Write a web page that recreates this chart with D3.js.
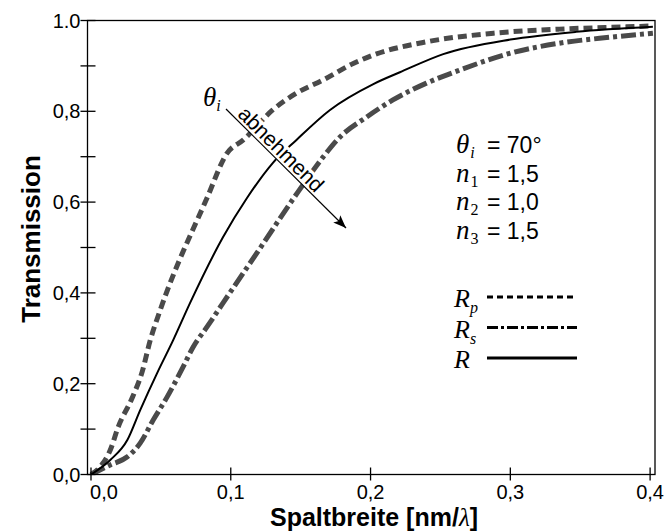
<!DOCTYPE html>
<html>
<head>
<meta charset="utf-8">
<script src="https://cdn.jsdelivr.net/npm/d3@7"></script>
<style>
    body { margin: 0; background: #fff; }
    svg { display: block; }
</style>
</head>
<body>
<svg width="667" height="531"></svg>
<script>
// Werte
const spaltRp = [0, 0.0066, 0.0138, 0.0195, 0.0295, 0.0366, 0.0424, 0.0495, 0.083, 0.0974, 0.109, 0.130, 0.147, 0.166, 0.188, 0.202, 0.240, 0.288, 0.335, 0.383, 0.402];
const transRp = [0, 0.017, 0.054, 0.105, 0.169, 0.226, 0.296, 0.362, 0.609, 0.708, 0.737, 0.803, 0.840, 0.869, 0.906, 0.924, 0.953, 0.972, 0.981, 0.986, 0.988];

const spaltR = [0, 0.0138, 0.026, 0.0352, 0.0474, 0.0588, 0.0709, 0.0945, 0.1116, 0.130, 0.147, 0.171, 0.202, 0.221, 0.252, 0.300, 0.347, 0.402];
const transR = [0, 0.032, 0.076, 0.142, 0.224, 0.296, 0.378, 0.523, 0.609, 0.686, 0.737, 0.803, 0.860, 0.886, 0.926, 0.958, 0.975, 0.986];

const spaltRs = [0, 0.0138, 0.026, 0.0352, 0.0445, 0.0545, 0.0659, 0.0731, 0.083, 0.0945, 0.12, 0.148, 0.166, 0.178, 0.197, 0.216, 0.240, 0.264, 0.300, 0.335, 0.371, 0.402];
const transRs = [0, 0.021, 0.039, 0.069, 0.120, 0.171, 0.237, 0.281, 0.325, 0.378, 0.494, 0.622, 0.699, 0.743, 0.787, 0.825, 0.862, 0.891, 0.928, 0.950, 0.963, 0.972];

const xTicks = [0, 0.1, 0.2, 0.3, 0.4];
const xLabels = ['0,0', '0,1', '0,2', '0,3', '0,4'];
const yTicks = [0, 0.1, 0.2, 0.3, 0.4, 0.5, 0.6, 0.7, 0.8, 0.9, 1.0];
const yLabels = ['0,0', '', '0,2', '', '0,4', '', '0,6', '', '0,8', '', '1.0'];

const paramVars = ['θ', 'n', 'n', 'n'];
const paramSubs = ['i', '1', '2', '3'];
const paramValues = ['70°', '1,5', '1,0', '1,5'];

const legendSubs = ['p', 's', ''];

const svg = d3.select('svg');
const pLeft = 87.5, pRight = 655, pTop = 20.5, pBottom = 474.5;
const grau = '#4a4a4a';
const sans = 'Liberation Sans, Arial, sans-serif';
const serif = 'Liberation Serif, Times New Roman, serif';

const x = d3.scaleLinear().domain([-0.0025, 0.4035]).range([pLeft, pRight]);
const y = d3.scaleLinear().domain([0, 1]).range([pBottom, pTop]);

svg.append('defs').append('clipPath').attr('id', 'plot')
    .append('rect')
    .attr('x', pLeft).attr('y', pTop)
    .attr('width', pRight - pLeft).attr('height', pBottom - pTop);

const line = d3.line()
    .x(d => x(d[0]))
    .y(d => y(d[1]))
    .curve(d3.curveMonotoneX);

const kurven = [
    {sx: spaltRs, ty: transRs, color: grau, width: 5, dash: '15,4,4,4'},
    {sx: spaltRp, ty: transRp, color: grau, width: 5, dash: '9,5'},
    {sx: spaltR, ty: transR, color: '#000', width: 2, dash: null}
];

const g = svg.append('g').attr('clip-path', 'url(#plot)');
kurven.forEach(k => {
    g.append('path')
        .datum(k.sx.map((v, i) => [v, k.ty[i]]))
        .attr('d', line)
        .attr('fill', 'none')
        .attr('stroke', k.color)
        .attr('stroke-width', k.width)
        .attr('stroke-dasharray', k.dash);
});

// Rahmen
svg.append('rect')
    .attr('x', pLeft).attr('y', pTop)
    .attr('width', pRight - pLeft).attr('height', pBottom - pTop)
    .attr('fill', 'none')
    .attr('stroke', '#000')
    .attr('stroke-width', 1.3);

// y-Achse
svg.append('g').selectAll('line')
    .data(yTicks)
    .enter().append('line')
    .attr('x1', pLeft - 7).attr('x2', pLeft + 8)
    .attr('y1', d => y(d)).attr('y2', d => y(d))
    .attr('stroke', '#000')
    .attr('stroke-width', 1.3);

svg.append('g').selectAll('text')
    .data(yTicks)
    .enter().append('text')
    .attr('x', pLeft - 7)
    .attr('y', d => y(d) + 7)
    .attr('text-anchor', 'end')
    .attr('font-family', sans)
    .attr('font-size', 20)
    .text((d, i) => yLabels[i]);

// x-Achse
svg.append('g').selectAll('line')
    .data(xTicks)
    .enter().append('line')
    .attr('x1', d => x(d)).attr('x2', d => x(d))
    .attr('y1', pBottom - 7).attr('y2', pBottom + 6)
    .attr('stroke', '#000')
    .attr('stroke-width', 1.3);

svg.append('g').selectAll('text')
    .data(xTicks)
    .enter().append('text')
    .attr('x', d => x(d) + (d === 0 ? 13 : 0))
    .attr('y', pBottom + 24.5)
    .attr('text-anchor', 'middle')
    .attr('font-family', sans)
    .attr('font-size', 20)
    .text((d, i) => xLabels[i]);

const xTitle = svg.append('text')
    .attr('x', 374).attr('y', 526)
    .attr('text-anchor', 'middle')
    .attr('font-family', sans)
    .attr('font-weight', 'bold')
    .attr('font-size', 25);
xTitle.append('tspan').text('Spaltbreite [nm/');
xTitle.append('tspan').attr('font-family', serif).attr('font-style', 'italic').attr('font-weight', 'normal').text('λ');
xTitle.append('tspan').text(']');

svg.append('text')
    .attr('transform', 'translate(40,239) rotate(-90)')
    .attr('text-anchor', 'middle')
    .attr('font-family', sans)
    .attr('font-weight', 'bold')
    .attr('font-size', 26)
    .text('Transmission');

// Parameter
const pg = svg.append('g');
paramVars.forEach((v, i) => {
    const by = 153 + i * 28.5;
    const t = pg.append('text').attr('x', 456).attr('y', by);
    t.append('tspan')
        .attr('font-family', serif).attr('font-style', 'italic').attr('font-size', 27)
        .text(v);
    t.append('tspan')
        .attr('font-family', serif).attr('font-style', i === 0 ? 'italic' : 'normal').attr('font-size', 16)
        .attr('dy', 5).attr('dx', 1)
        .text(paramSubs[i]);
    pg.append('text')
        .attr('x', 487).attr('y', by)
        .attr('font-family', sans).attr('font-size', 23)
        .text('= ' + paramValues[i]);
});

// Legende
const legendDash = ['6,4', '11,3,3,3', null];
legendSubs.forEach((s, i) => {
    const ly = 297 + i * 30.5;
    const t = svg.append('text').attr('x', 454).attr('y', ly + 10);
    t.append('tspan')
        .attr('font-family', serif).attr('font-style', 'italic').attr('font-size', 26)
        .text('R');
    t.append('tspan')
        .attr('font-family', serif).attr('font-style', 'italic').attr('font-size', 16)
        .attr('dy', 6)
        .text(s);
    svg.append('line')
        .attr('x1', 487).attr('x2', i === 0 ? 573 : 577)
        .attr('y1', ly).attr('y2', ly)
        .attr('stroke', '#000')
        .attr('stroke-width', 3)
        .attr('stroke-dasharray', legendDash[i]);
});

// Pfeil "abnehmend"
const pfeil = {x1: 226, y1: 109, x2: 346, y2: 228};
const winkel = Math.atan2(pfeil.y2 - pfeil.y1, pfeil.x2 - pfeil.x1) * 180 / Math.PI;

svg.append('text')
    .attr('transform', 'translate(' + pfeil.x1 + ',' + pfeil.y1 + ') rotate(' + winkel + ')')
    .attr('x', 12).attr('y', -3)
    .attr('font-family', sans)
    .attr('font-size', 21)
    .attr('stroke', '#fff')
    .attr('stroke-width', 6)
    .attr('paint-order', 'stroke')
    .attr('fill', '#000')
    .text('abnehmend');

svg.append('line')
    .attr('x1', pfeil.x1).attr('y1', pfeil.y1)
    .attr('x2', pfeil.x2).attr('y2', pfeil.y2)
    .attr('stroke', '#000')
    .attr('stroke-width', 1.2);

svg.append('path')
    .attr('transform', 'translate(' + pfeil.x2 + ',' + pfeil.y2 + ') rotate(' + winkel + ')')
    .attr('d', 'M -13,-5 L 0,0 L -13,5 L -10,0 Z')
    .attr('fill', '#000');

const th = svg.append('text').attr('x', 203).attr('y', 106);
th.append('tspan')
    .attr('font-family', serif).attr('font-style', 'italic').attr('font-size', 27)
    .text('θ');
th.append('tspan')
    .attr('font-family', serif).attr('font-style', 'italic').attr('font-size', 16)
    .attr('dy', 5)
    .text('i');
</script>
</body>
</html>
